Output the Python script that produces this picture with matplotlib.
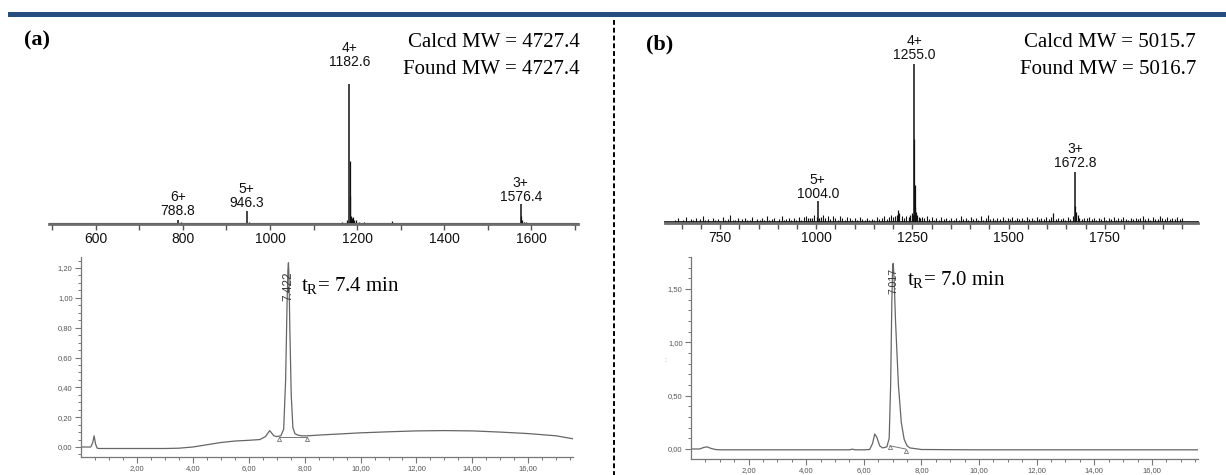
import matplotlib
matplotlib.use("Agg")
import matplotlib.pyplot as plt
from matplotlib.patches import Rectangle
from matplotlib.lines import Line2D

plt.rcParams['mathtext.fontset'] = 'custom'
plt.rcParams['mathtext.rm'] = 'Liberation Serif'

# ---------------- data ----------------
# MS (a)
ms_a_peaks_mz = [788.8, 946.3, 1182.6, 1576.4]
ms_a_peaks_int = [2.9, 9.3, 100, 14.3]
ms_a_charges = ["6+", "5+", "4+", "3+"]
ms_a_labels = ["788.8", "946.3", "1182.6", "1576.4"]
ms_a_minor_mz = [505, 530, 560, 585, 612, 640, 655, 680, 700, 722, 742, 770, 795, 820, 850, 880, 905, 930,
                 951, 960, 985, 1010, 1035, 1060, 1090, 1120, 1150, 1165, 1178, 1182.85, 1183.1, 1185.6, 1188,
                 1191, 1194, 1198, 1205, 1215, 1240, 1260, 1280, 1305, 1330, 1355, 1380, 1410, 1440, 1470,
                 1500, 1530, 1560, 1576.65, 1579.5, 1583, 1588, 1610, 1640, 1665, 1690]
ms_a_minor_int = [0.6, 0.5, 0.8, 0.5, 0.6, 0.5, 0.9, 0.5, 0.7, 0.5, 0.8, 1.0, 1.2, 0.5, 0.7, 0.5, 0.9, 0.6,
                  1.5, 0.8, 0.5, 0.7, 0.5, 0.6, 0.5, 0.8, 0.6, 1.5, 2.5, 45, 20, 6, 4,
                  5, 3, 2.5, 1.5, 1.2, 1.0, 0.9, 2.2, 0.6, 0.8, 0.5, 0.9, 0.5, 0.7, 0.5,
                  0.8, 0.6, 0.9, 6, 3, 1.5, 1.2, 0.6, 0.7, 0.5, 0.6]
ms_a_ticks = [600, 800, 1000, 1200, 1400, 1600]

# MS (b)
ms_b_peaks_mz = [1004.0, 1255.0, 1672.8]
ms_b_peaks_int = [14, 100, 32]
ms_b_charges = ["5+", "4+", "3+"]
ms_b_labels = ["1004.0", "1255.0", "1672.8"]
ms_b_minor_mz = [1255.25, 1255.5, 1256.0, 1210, 1213, 1216, 1240, 1244, 1248, 1260, 1262, 1266, 1270,
                 1615, 1673.1, 1676, 1680, 1683, 1001, 1008, 985, 990]
ms_b_minor_int = [53, 24, 10, 5, 8, 6, 4, 5, 6, 7, 5, 4, 3,
                  6, 11, 7, 5, 3, 4, 3, 3, 3]
ms_b_noise_mz = [632, 640, 648, 655, 662, 668, 674, 680, 687, 693, 699, 705, 712, 718, 725, 731, 738, 745,
                 751, 758, 764, 770, 777, 783, 790, 796, 802, 808, 815, 821, 828, 834, 840, 846, 853, 859,
                 865, 872, 878, 884, 891, 897, 903, 910, 916, 922, 929, 935, 941, 948, 954, 961, 967, 973,
                 979, 995, 1012, 1018, 1024, 1030, 1037, 1043, 1050, 1056, 1062, 1068, 1075, 1081, 1088,
                 1094, 1100, 1107, 1113, 1119, 1126, 1132, 1138, 1145, 1151, 1157, 1164, 1170, 1176, 1183,
                 1189, 1195, 1200, 1205, 1222, 1228, 1234, 1252, 1275, 1281, 1287, 1293, 1300, 1306, 1312,
                 1319, 1325, 1331, 1338, 1344, 1350, 1357, 1363, 1370, 1376, 1382, 1389, 1395, 1401, 1408,
                 1414, 1420, 1427, 1433, 1440, 1446, 1452, 1459, 1465, 1471, 1478, 1484, 1490, 1497, 1503,
                 1509, 1516, 1522, 1528, 1535, 1541, 1547, 1554, 1560, 1566, 1573, 1579, 1585, 1592, 1598,
                 1604, 1610, 1622, 1628, 1635, 1641, 1647, 1654, 1660, 1666, 1690, 1697, 1703, 1709, 1716,
                 1722, 1728, 1735, 1741, 1747, 1754, 1760, 1766, 1773, 1779, 1785, 1792, 1798, 1804, 1811,
                 1817, 1823, 1830, 1836, 1842, 1849, 1855, 1861, 1868, 1874, 1880, 1887, 1893, 1899, 1906,
                 1912, 1918, 1925, 1931, 1937, 1944, 1950]
ms_b_noise_int = [1.8, 3.0, 1.5, 2.2, 3.8, 1.5, 2.7, 1.8, 3.3, 1.5, 2.4, 4.2, 1.6, 2.5, 1.5, 3.0, 2.0, 2.4,
                  1.5, 3.6, 1.8, 2.7, 5.2, 1.6, 2.2, 3.0, 1.5, 2.5, 3.3, 1.8, 2.2, 3.9, 1.5, 2.8, 2.0, 3.1,
                  1.6, 4.2, 2.1, 2.5, 3.4, 1.5, 2.4, 4.3, 1.8, 2.7, 3.3, 2.0, 3.0, 1.6, 3.8, 2.1, 4.0, 4.5,
                  3.3, 4.8, 3.9, 5.1, 3.0, 4.6, 2.4, 4.2, 3.3, 2.2, 4.5, 3.0, 2.1, 3.9, 3.3, 2.2, 3.0, 2.0,
                  3.8, 2.7, 1.8, 3.3, 2.2, 2.8, 1.6, 3.6, 2.4, 3.0, 4.2, 2.5, 3.9, 5.0, 3.6, 4.5, 4.6, 3.3,
                  4.2, 5.2, 3.9, 3.3, 4.5, 2.4, 3.6, 2.2, 3.0, 2.0, 3.9, 2.5, 3.0, 1.8, 3.4, 2.2, 3.1, 2.0,
                  4.2, 2.4, 3.0, 2.1, 3.6, 2.5, 3.3, 2.0, 4.3, 2.2, 3.1, 4.8, 2.4, 3.4, 2.1, 3.0, 2.7, 3.8,
                  2.2, 3.3, 2.5, 3.9, 2.1, 3.0, 2.4, 3.4, 2.2, 4.0, 2.7, 3.1, 2.1, 3.8, 2.8, 3.3, 2.4, 3.6,
                  2.7, 3.9, 2.5, 3.4, 2.8, 3.1, 2.2, 3.6, 2.7, 4.5, 2.4, 3.3, 3.0, 3.8, 2.4, 3.3, 2.1, 3.1,
                  2.5, 3.8, 2.2, 3.3, 2.7, 3.9, 2.1, 3.0, 2.4, 3.6, 2.8, 2.2, 3.3, 2.7, 3.0, 2.4, 3.4, 4.2,
                  2.5, 3.1, 2.2, 3.8, 2.8, 2.4, 4.5, 3.3, 2.7, 3.6, 2.4, 3.1, 2.7, 3.9, 2.5, 3.0]
ms_b_ticks = [750, 1000, 1250, 1500, 1750]

# HPLC (a)
hplc_a_t = [0.0, 0.35, 0.42, 0.47, 0.52, 0.58, 0.65, 0.8, 1.0, 2.0, 3.0, 3.5, 4.0, 4.5, 5.0, 5.5, 6.0,
            6.4, 6.6, 6.75, 6.9, 7.0, 7.15, 7.25, 7.32, 7.37, 7.40, 7.42, 7.44, 7.47, 7.52, 7.58, 7.65,
            7.75, 7.9, 8.1, 8.5, 9.0, 10.0, 11.0, 12.0, 13.0, 14.0, 15.0, 16.0, 17.0, 17.6]
hplc_a_y = [0.0, 0.0, 0.03, 0.075, 0.02, -0.008, -0.01, -0.01, -0.01, -0.01, -0.01, -0.008, 0.0, 0.015,
            0.03, 0.04, 0.045, 0.05, 0.07, 0.11, 0.075, 0.07, 0.075, 0.12, 0.45, 0.95, 1.18, 1.235, 1.15,
            0.8, 0.35, 0.13, 0.09, 0.08, 0.075, 0.075, 0.08, 0.085, 0.095, 0.102, 0.108, 0.11, 0.108,
            0.1, 0.09, 0.075, 0.055]
hplc_a_base_t = [7.1, 8.1]
hplc_a_base_y = [0.07, 0.07]
hplc_a_rt = "7.422"
hplc_a_yticks = [0.0, 0.2, 0.4, 0.6, 0.8, 1.0, 1.2]
hplc_a_yticklabels = ["0,00", "0,20", "0,40", "0,60", "0,80", "1,00", "1,20"]

# HPLC (b)
hplc_b_t = [0.0, 0.3, 0.45, 0.55, 0.7, 0.85, 1.0, 2.0, 4.0, 5.5, 5.6, 5.7, 6.0, 6.2, 6.3, 6.38, 6.45,
            6.55, 6.65, 6.8, 6.88, 6.93, 6.97, 7.0, 7.02, 7.05, 7.1, 7.2, 7.3, 7.4, 7.5, 7.6, 8.0, 10.0,
            12.0, 14.0, 16.0, 17.6]
hplc_b_y = [0.0, 0.0, 0.015, 0.02, 0.005, -0.005, -0.008, -0.008, -0.008, -0.008, -0.002, -0.008, -0.008,
            -0.005, 0.05, 0.14, 0.11, 0.03, 0.01, 0.02, 0.1, 0.6, 1.35, 1.72, 1.74, 1.6, 1.2, 0.6, 0.25,
            0.09, 0.03, 0.01, -0.005, -0.008, -0.008, -0.008, -0.008, -0.008]
hplc_b_base_t = [6.9, 7.45]
hplc_b_base_y = [0.03, 0.0]
hplc_b_rt = "7.017"
hplc_b_yticks = [0.0, 0.5, 1.0, 1.5]
hplc_b_yticklabels = ["0,00", "0,50", "1,00", "1,50"]

hplc_xticks = [2, 4, 6, 8, 10, 12, 14, 16]
hplc_xticklabels = ["2,00", "4,00", "6,00", "8,00", "10,00", "12,00", "14,00", "16,00"]

# ---------------- figure ----------------
W, H = 1226, 475
fig = plt.figure(figsize=(W / 100, H / 100), dpi=100)
fig.patch.set_facecolor("white")

SERIF = "Liberation Serif"
SANS = "Liberation Sans"


def px_axes(l, t, r, b):
    return fig.add_axes([l / W, 1 - b / H, (r - l) / W, (b - t) / H])


def fx(x):
    return x / W


def fy(y):
    return 1 - y / H


# top blue bar
fig.patches.append(Rectangle((fx(8), fy(17)), fx(1226 - 8), 5 / H, transform=fig.transFigure,
                             facecolor="#254E7E", edgecolor="none"))
# dashed divider
fig.lines.append(Line2D([fx(614), fx(614)], [fy(20), fy(475)], transform=fig.transFigure,
                        color="black", lw=1.4, dashes=(2.5, 1.5)))


def ms_panel(box, xlim, ytop, peaks_mz, peaks_int, charges, labels, label_gaps, minor_mz, minor_int,
             noise_mz, noise_int, ticks, minor_step, base_lw):
    ax = px_axes(*box)
    ax.set_xlim(*xlim)
    ax.set_ylim(0, ytop)
    for s in ["left", "right", "top"]:
        ax.spines[s].set_visible(False)
    ax.spines["bottom"].set_color("#6e6e6e")
    ax.spines["bottom"].set_linewidth(2.0)
    ax.set_yticks([])
    ax.set_xticks(ticks)
    ax.set_xticks(range(int(xlim[0] // minor_step * minor_step + minor_step), int(xlim[1]), minor_step),
                  minor=True)
    ax.tick_params(axis="x", which="both", direction="out", length=4, width=1, color="#555555",
                   labelsize=10, pad=2, labelcolor="#111111")
    for lab in ax.get_xticklabels():
        lab.set_fontfamily(SANS)
    # baseline
    ax.plot([xlim[0], xlim[1]], [0.6, 0.6], color="#222222", lw=base_lw, clip_on=False)
    if noise_mz:
        ax.vlines(noise_mz, 0, noise_int, color="#111111", lw=0.8)
    ax.vlines(minor_mz, 0, minor_int, color="#111111", lw=0.9)
    ax.vlines(peaks_mz, 0, peaks_int, color="#111111", lw=1.1)
    for mz, it, ch, lb, gap in zip(peaks_mz, peaks_int, charges, labels, label_gaps):
        ax.annotate(ch + "\n" + lb, (mz, it), xytext=(0, gap), textcoords="offset pixels",
                    ha="center", va="bottom", fontsize=10, family=SANS, linespacing=1.0,
                    color="#111111")
    return ax


ms_panel((49, 20, 578, 224), (492, 1708), 145.7, ms_a_peaks_mz, ms_a_peaks_int, ms_a_charges,
         ms_a_labels, [2, 1, 15, 0], ms_a_minor_mz, ms_a_minor_int, [], [], ms_a_ticks, 100, 0.8)
ms_panel((665, 20, 1198, 223), (607, 1992), 127.7, ms_b_peaks_mz, ms_b_peaks_int, ms_b_charges,
         ms_b_labels, [0, 2, 2], ms_b_minor_mz, ms_b_minor_int, ms_b_noise_mz, ms_b_noise_int,
         ms_b_ticks, 50, 1.3)

# panel texts
fig.text(fx(24), fy(40), "(a)", fontsize=16, fontweight="bold", family=SERIF, va="center", ha="left")
fig.text(fx(646), fy(44), "(b)", fontsize=16, fontweight="bold", family=SERIF, va="center", ha="left")
fig.text(fx(580), fy(47), "Calcd MW = 4727.4", fontsize=15, family=SERIF, va="baseline", ha="right")
fig.text(fx(580), fy(74), "Found MW = 4727.4", fontsize=15, family=SERIF, va="baseline", ha="right")
fig.text(fx(1196), fy(47), "Calcd MW = 5015.7", fontsize=15, family=SERIF, va="baseline", ha="right")
fig.text(fx(1196), fy(74), "Found MW = 5016.7", fontsize=15, family=SERIF, va="baseline", ha="right")


def hplc_panel(box, xlim, ylim, t, y, base_t, base_y, rt_label, rt_t, rt_y, rt_size, yticks,
               yticklabels, yminor, tr_text, tr_xy):
    ax = px_axes(*box)
    ax.set_xlim(*xlim)
    ax.set_ylim(*ylim)
    for s in ["right", "top"]:
        ax.spines[s].set_visible(False)
    for s in ["left", "bottom"]:
        ax.spines[s].set_color("#777777")
        ax.spines[s].set_linewidth(0.9)
    ax.set_xticks(hplc_xticks)
    ax.set_xticklabels(hplc_xticklabels)
    ax.set_xticks([v * 0.5 for v in range(1, int(xlim[1] * 2) + 1)], minor=True)
    ax.set_yticks(yticks)
    ax.set_yticklabels(yticklabels)
    ax.set_yticks([round(v * yminor, 3) for v in range(int(ylim[0] / yminor), int(ylim[1] / yminor) + 1)],
                  minor=True)
    ax.tick_params(axis="both", which="major", direction="out", length=4, width=0.8, color="#777777",
                   labelsize=5.5, labelcolor="#555555", pad=2)
    ax.tick_params(axis="both", which="minor", direction="out", length=2.5, width=0.7, color="#777777")
    for lab in ax.get_xticklabels() + ax.get_yticklabels():
        lab.set_fontfamily(SANS)
    ax.plot(t, y, color="#666666", lw=0.9)
    ax.plot(base_t, base_y, color="#777777", lw=0.7)
    ax.plot(base_t, [v - 0.015 for v in base_y], ls="none", marker="^", ms=3, mfc="none",
            mec="#777777", mew=0.6)
    ax.text(rt_t, rt_y, rt_label, rotation=90, fontsize=rt_size, family=SANS, color="#3a3a3a",
            ha="center", va="center")
    ax.text(tr_xy[0], tr_xy[1], tr_text, fontsize=15, family=SERIF, ha="left", va="center",
            transform=fig.transFigure)
    return ax


hplc_panel((81, 257, 573, 457), (0, 17.6), (-0.067, 1.274), hplc_a_t, hplc_a_y, hplc_a_base_t,
           hplc_a_base_y, hplc_a_rt, 7.42, 1.08, 8.5, hplc_a_yticks, hplc_a_yticklabels, 0.05,
           r"$\mathregular{t_R}$= 7.4 min", (fx(301), fy(285)))
hplc_panel((691, 257, 1198, 459), (0, 17.6), (-0.094, 1.80), hplc_b_t, hplc_b_y, hplc_b_base_t,
           hplc_b_base_y, hplc_b_rt, 7.02, 1.575, 7.5, hplc_b_yticks, hplc_b_yticklabels, 0.1,
           r"$\mathregular{t_R}$= 7.0 min", (fx(907), fy(279)))
fig.text(fx(665), fy(361), ":", fontsize=5, color="#999999", family=SANS, ha="center", va="center")

fig.savefig("out.png", dpi=100, facecolor="white")
